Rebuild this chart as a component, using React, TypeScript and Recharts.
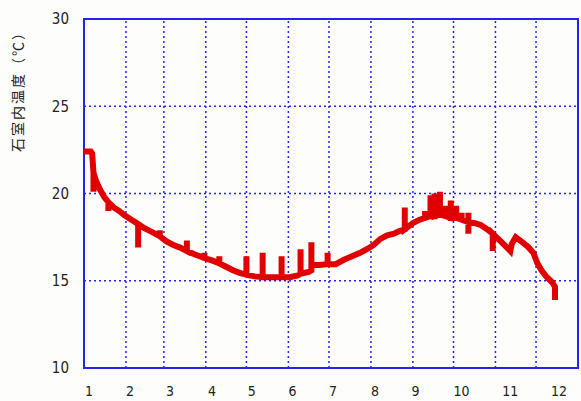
import { LineChart, Line, XAxis, YAxis, CartesianGrid, ReferenceLine, ReferenceArea } from 'recharts'

// day of year -> room temperature; repeated days are the short spikes
const DAYS = [
  0, 5, 6, 7, 7, 7, 9, 12, 15, 18, 18, 18, 22, 26, 30, 35, 40, 40, 40, 45, 50, 56, 56, 56,
  61, 66, 71, 76, 76, 76, 82, 89, 89, 89, 95, 100, 100, 100, 105, 110, 115, 120, 120, 120,
  126, 132, 132, 132, 139, 146, 146, 146, 152, 158, 160, 160, 160, 166, 168, 168, 168, 174,
  180, 180, 180, 186, 192, 198, 204, 210, 214, 219, 224, 229, 233, 237, 237, 237, 243, 248,
  252, 252, 252, 256, 256, 256, 259, 259, 259, 263, 263, 263, 267, 267, 267, 271, 271, 271,
  275, 275, 275, 279, 279, 279, 284, 284, 284, 284, 289, 293, 297, 302, 302, 302, 306, 310,
  315, 316, 319, 324, 328, 332, 335, 338, 342, 346, 348, 348,
]
const TEMPS = [
  22.4, 22.4, 22.3, 21.2, 20.1, 21.2, 20.7, 20.2, 19.8, 19.5, 19.0, 19.5, 19.2, 19.0, 18.75, 18.5, 18.25, 16.9, 18.25, 18.0, 17.8, 17.55, 17.9, 17.55,
  17.25, 17.05, 16.9, 16.7, 17.3, 16.7, 16.5, 16.3, 16.6, 16.3, 16.15, 16.0, 16.4, 16.0, 15.8, 15.6, 15.45, 15.35, 16.4, 15.35,
  15.25, 15.2, 16.6, 15.2, 15.2, 15.2, 16.4, 15.2, 15.2, 15.3, 15.4, 16.8, 15.4, 15.5, 15.6, 17.2, 15.9, 15.9,
  15.95, 16.6, 15.95, 15.95, 16.2, 16.4, 16.6, 16.85, 17.05, 17.4, 17.6, 17.7, 17.85, 17.95, 19.2, 17.95, 18.3, 18.5,
  18.6, 19.0, 18.6, 18.7, 19.9, 18.7, 18.7, 20.0, 18.7, 18.8, 20.1, 18.8, 18.7, 19.3, 18.7, 18.6, 19.6, 18.6,
  18.6, 19.3, 18.6, 18.5, 18.9, 18.5, 18.35, 17.7, 18.9, 18.35, 18.3, 18.2, 18.0, 17.7, 16.7, 17.7, 17.4, 17.1,
  16.7, 17.1, 17.5, 17.2, 16.95, 16.6, 16.0, 15.6, 15.2, 14.9, 14.65, 13.9,
]

const MONTH_STARTS = [31, 59, 90, 120, 151, 181, 212, 243, 273, 304, 334]
const MONTH_LABELS = ['1', '2', '3', '4', '5', '6', '7', '8', '9', '10', '11', '12']
const LABEL_DAYS = [3.7, 34, 63.5, 94.6, 124, 154, 184, 215, 245, 279, 315, 351]
const Y_TICKS = [10, 15, 20, 25, 30]

const data = DAYS.map((d, i) => ({ day: d, temp: TEMPS[i] }))

const BLUE = '#2424e6'
const FONT = "'Liberation Sans Narrow', 'DejaVu Sans Condensed', sans-serif"

export default function App() {
  return (
    <div style={{ position: 'absolute', left: 0, top: 0, width: 581, height: 401, background: '#fdfdfb' }}>
      <LineChart width={581} height={401} data={data} margin={{ top: 19, right: 3, left: 0, bottom: 0 }}>
        <CartesianGrid vertical={false} stroke={BLUE} strokeDasharray="2 3" strokeWidth={1.5} />
        {MONTH_STARTS.map((m) => (
          <ReferenceLine key={m} x={m} stroke={BLUE} strokeDasharray="2 3" strokeWidth={1.5} />
        ))}
        <XAxis
          dataKey="day"
          type="number"
          domain={[0, 365]}
          ticks={LABEL_DAYS}
          tickFormatter={(_, i) => MONTH_LABELS[i]}
          interval={0}
          axisLine={false}
          tickLine={false}
          tickSize={0}
          tickMargin={18}
          height={33}
          tick={{ fontSize: 14, fill: '#222', fontFamily: FONT }}
        />
        <YAxis
          type="number"
          domain={[10, 30]}
          ticks={Y_TICKS}
          interval={0}
          axisLine={false}
          tickLine={false}
          tickSize={0}
          tickMargin={15}
          width={84}
          tick={{ fontSize: 15, fill: '#222', fontFamily: FONT }}
        />
        <ReferenceArea x1={0} x2={365} y1={10} y2={30} fill="none" stroke={BLUE} strokeWidth={2} />
        <Line
          dataKey="temp"
          type="linear"
          stroke="#e00000"
          strokeWidth={6}
          strokeLinejoin="miter"
          dot={false}
          isAnimationActive={false}
        />
      </LineChart>
      <div
        style={{
          position: 'absolute',
          left: 17,
          top: 88,
          transform: 'translate(-50%, -50%) rotate(-90deg)',
          whiteSpace: 'nowrap',
          fontSize: 14,
          letterSpacing: 2,
          color: '#222',
          fontFamily: "'Noto Sans CJK JP', sans-serif",
        }}
      >
        石室内温度（℃）
      </div>
    </div>
  )
}
